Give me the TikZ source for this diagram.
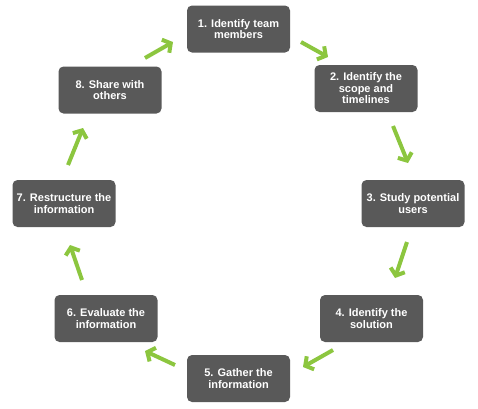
\documentclass[tikz,border=0pt]{standalone}
\usepackage{fontspec}
\setmainfont{Liberation Sans}
\usetikzlibrary{arrows.meta}
\definecolor{cinzabox}{HTML}{595959}
\definecolor{verdeseta}{HTML}{8CC63F}
\tikzset{
  stepbox/.style={fill=cinzabox, rounded corners=5pt, minimum width=103pt,
    minimum height=47pt, text=white, align=center, inner sep=2pt,
    font=\bfseries\fontsize{11}{11.5}\selectfont},
  seta/.style={verdeseta, line width=4pt, -{Straight Barb[length=6pt,width=15pt]}}
}
\begin{document}
\begin{tikzpicture}[x=1pt,y=-1pt]
\useasboundingbox (0,0) rectangle (478,408);
% the eight steps
\node[stepbox] (s1) at (238.5,29)  {1. Identify team\\members};
\node[stepbox] (s2) at (366,88.5)  {2. Identify the\\scope and\\timelines};
\node[stepbox] (s3) at (413,203.5) {3. Study potential\\users};
\node[stepbox] (s4) at (371.5,318.5) {4. Identify the\\solution};
\node[stepbox] (s5) at (238.5,378.5) {5. Gather the\\information};
\node[stepbox] (s6) at (106,318.5) {6. Evaluate the\\information};
\node[stepbox] (s7) at (64,203.5)  {7. Restructure the\\information};
\node[stepbox] (s8) at (110,90)    {8. Share with\\others};
% arrow ends
\coordinate (a12) at (301,42);  \coordinate (b12) at (328,57);
\coordinate (a23) at (393,126); \coordinate (b23) at (408,163);
\coordinate (a34) at (407,242); \coordinate (b34) at (395,278);
\coordinate (a45) at (333,350); \coordinate (b45) at (303,367);
\coordinate (a56) at (175,365); \coordinate (b56) at (145,351);
\coordinate (a67) at (82,280);  \coordinate (b67) at (70,245);
\coordinate (a78) at (68,165);  \coordinate (b78) at (83,128);
\coordinate (a81) at (145,58);  \coordinate (b81) at (173,42);
\foreach \p in {12,23,34,45,56,67,78,81}{
  \draw[seta] (a\p) -- (b\p);
}
\end{tikzpicture}
\end{document}
